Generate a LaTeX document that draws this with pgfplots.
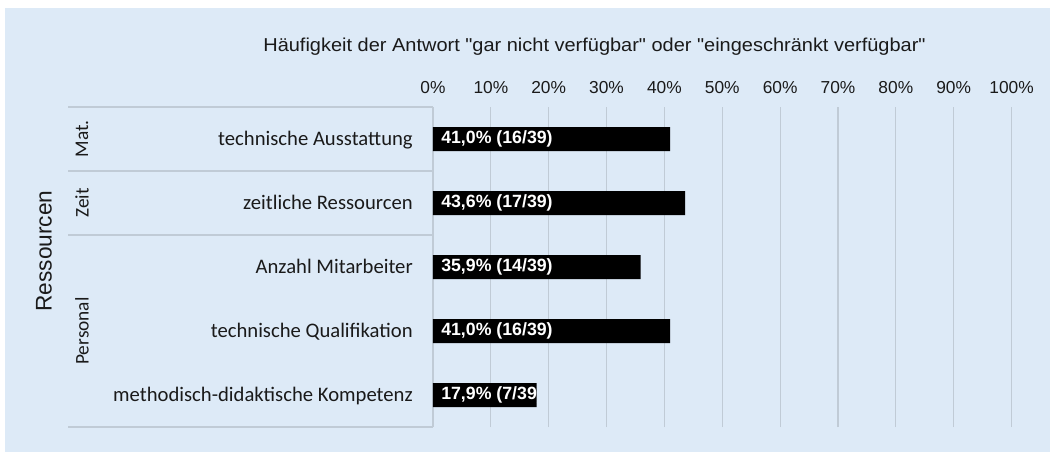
\documentclass[border=0pt]{standalone}
\usepackage{fontspec}
\setmainfont{Liberation Sans}
\newfontfamily\calfont{Carlito}
\newfontfamily\titlefont[FakeStretch=1.07]{Liberation Sans}
\usepackage{pgfplots}
\pgfplotsset{compat=1.18}
\usetikzlibrary{calc}
\definecolor{bg}{RGB}{221,234,247}
\definecolor{gridc}{RGB}{192,203,214}
\definecolor{txt}{RGB}{26,26,26}
\tikzset{
 lbl/.style={anchor=base west, xshift=6pt, yshift=-3.2pt, font=\bfseries\fontsize{13.3}{15}\selectfont, text=white, inner sep=0pt},
 grp/.style={rotate=90, font=\calfont\fontsize{14.5}{17}\selectfont, text=txt},
}
\begin{document}
\begin{tikzpicture}
\begin{scope}[x=0.75pt,y=-0.75pt]
\path[use as bounding box] (0,0) rectangle (1050,452);
\fill[white] (0,0) rectangle (1050,452);
\fill[bg] (5,8) rectangle (1050,452);
\node[anchor=base, font=\titlefont\fontsize{14}{16}\selectfont, text=txt, inner sep=0pt] at (594.5,51.7) {Häufigkeit der Antwort \char34 gar nicht verfügbar\char34\ oder \char34 eingeschränkt verfügbar\char34};
\end{scope}
\begin{axis}[
 at={(324.75pt,-320.25pt)}, anchor=south west,
 scale only axis, width=433.9pt, height=240pt,
 xmin=0, xmax=100, ymin=-0.5, ymax=4.5,
 xbar, bar width=18pt,
 axis line style={draw=none},
 major tick length=0pt, tick style={draw=none},
 xtick={0,10,...,100},
 xticklabels={0\%,10\%,20\%,30\%,40\%,50\%,60\%,70\%,80\%,90\%,100\%},
 xticklabel pos=upper,
 xticklabel style={anchor=base, yshift=10.5pt, font=\fontsize{13}{15}\selectfont, text=txt, inner sep=0pt},
 ytick={0,1,2,3,4},
 yticklabels={methodisch-didaktische Kompetenz, technische Qualifikation, Anzahl Mitarbeiter, zeitliche Ressourcen, technische Ausstattung},
 yticklabel style={anchor=base east, inner sep=0pt, xshift=-15pt, yshift=-4.9pt, font=\calfont\fontsize{15.5}{18}\selectfont, text=txt},
 xmajorgrids, grid style={gridc, line width=0.9pt},
 clip=false,
]
\addplot[fill=black, draw=none] coordinates {(17.9,0) (41.0,1) (35.9,2) (43.6,3) (41.0,4)};
\node[lbl] at (axis cs:0,4) {41,0\% (16/39)};
\node[lbl] at (axis cs:0,3) {43,6\% (17/39)};
\node[lbl] at (axis cs:0,2) {35,9\% (14/39)};
\node[lbl] at (axis cs:0,1) {41,0\% (16/39)};
\begin{scope}
\clip (axis cs:0,-0.3) rectangle (axis cs:17.9,0.3);
\node[lbl] at (axis cs:0,0) {17,9\% (7/39)};
\end{scope}
\draw[gridc, line width=0.9pt] (axis cs:0,4.5) -- ++(-273.75pt,0pt);
\draw[gridc, line width=0.9pt] (axis cs:0,3.5) -- ++(-273.75pt,0pt);
\draw[gridc, line width=0.9pt] (axis cs:0,2.5) -- ++(-273.75pt,0pt);
\draw[gridc, line width=0.9pt] (axis cs:0,-0.5) -- ++(-273.75pt,0pt);
\node[grp] at ($(axis cs:0,4)+(-263.25pt,0pt)$) {Mat.};
\node[grp] at ($(axis cs:0,3)+(-263.25pt,0pt)$) {Zeit};
\node[grp] at ($(axis cs:0,1)+(-263.25pt,0pt)$) {Personal};
\node[rotate=90, font=\fontsize{17}{20}\selectfont, text=txt] at ($(axis cs:0,2.25)+(-291.75pt,0pt)$) {Ressourcen};
\end{axis}
\end{tikzpicture}
\end{document}
